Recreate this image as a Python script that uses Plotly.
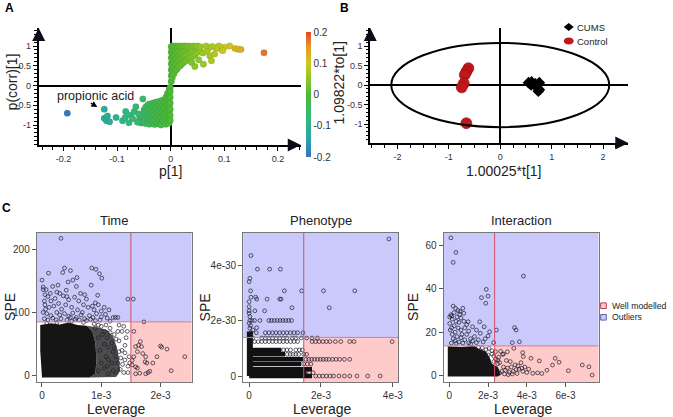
import plotly.graph_objects as go

FONT = "Liberation Sans, Arial, sans-serif"
W, H = 673, 417

# ---------------- A : S-plot, p[1] vs p(corr)[1] ----------------
# scattered variables (p[1], p(corr)[1])
a_scatter = [
    (-0.193, -0.70), (-0.124, -0.60), (-0.124, -0.83), (-0.118, -0.77), (-0.120, -0.89),
    (-0.114, -0.92), (-0.102, -0.81), (-0.090, -0.89), (-0.085, -0.81), (-0.084, -0.66),
    (-0.078, -0.94), (-0.075, -0.75), (-0.071, -0.84), (-0.068, -0.66), (-0.065, -0.54),
    (-0.052, -0.34), (-0.062, -0.93), (-0.060, -0.72),
    (0.174, 0.83), (0.120, 0.94), (0.126, 0.92), (0.131, 0.91), (0.110, 1.00),
    (0.100, 0.97), (0.094, 0.92), (0.090, 1.00), (0.097, 0.88), (0.085, 0.95),
    (0.078, 0.99), (0.072, 0.96), (0.066, 1.00), (0.073, 0.75), (0.076, 0.63),
    (0.061, 0.54), (0.052, 0.65), (0.039, 0.58), (0.060, 0.82), (0.068, 0.86),
    (0.082, 0.80), (0.045, 0.48),
]
# dense block of variables: p[1] -> p(corr)[1] values
a_block = [
    (-0.058, [-0.85, -0.92]),
    (-0.055, [-0.75, -0.88, -0.95]),
    (-0.050, [-0.62, -0.78, -0.90]),
    (-0.047, [-0.55, -0.70, -0.84, -0.96]),
    (-0.043, [-0.50, -0.65, -0.80, -0.92]),
    (-0.040, [-0.47, -0.58, -0.72, -0.86, -0.98]),
    (-0.036, [-0.52, -0.64, -0.78, -0.90]),
    (-0.033, [-0.44, -0.56, -0.70, -0.83, -0.96]),
    (-0.030, [-0.48, -0.62, -0.75, -0.88, -0.99]),
    (-0.027, [-0.42, -0.54, -0.68, -0.80, -0.93]),
    (-0.024, [-0.46, -0.60, -0.72, -0.86, -0.97]),
    (-0.021, [-0.40, -0.52, -0.65, -0.78, -0.91]),
    (-0.018, [-0.44, -0.57, -0.70, -0.83, -0.95, -1.0]),
    (-0.015, [-0.37, -0.50, -0.62, -0.75, -0.88]),
    (-0.012, [-0.42, -0.55, -0.68, -0.80, -0.93]),
    (-0.009, [-0.30, -0.45, -0.60, -0.72, -0.85, -0.98]),
    (-0.006, [-0.20, -0.35, -0.50, -0.65, -0.78, -0.90]),
    (-0.003, [-0.10, -0.25, -0.40, -0.55, -0.70, -0.83, -0.95]),
    (-0.001, [-0.05, -0.15, -0.30, -0.45, -0.60, -0.75, -0.88]),
    (0.001, [0.10, 0.25, 0.40, 0.55, 0.70, 0.85, 0.98]),
    (0.003, [0.20, 0.35, 0.50, 0.65, 0.80, 0.92, 1.0]),
    (0.006, [0.30, 0.45, 0.60, 0.75, 0.88, 0.98]),
    (0.009, [0.38, 0.52, 0.66, 0.80, 0.92, 1.0]),
    (0.012, [0.42, 0.56, 0.70, 0.83, 0.95]),
    (0.015, [0.48, 0.62, 0.75, 0.88, 1.0]),
    (0.018, [0.50, 0.65, 0.78, 0.90, 0.98]),
    (0.021, [0.55, 0.70, 0.82, 0.93, 1.0]),
    (0.024, [0.58, 0.72, 0.85, 0.96]),
    (0.027, [0.62, 0.76, 0.88, 1.0]),
    (0.030, [0.64, 0.78, 0.90, 0.98]),
    (0.034, [0.68, 0.82, 0.93, 1.0]),
    (0.038, [0.70, 0.85, 0.96]),
    (0.042, [0.75, 0.88, 1.0]),
    (0.046, [0.80, 0.92, 0.99]),
    (0.050, [0.84, 0.95, 1.0]),
    (0.055, [0.88, 0.98]),
]
a_xticks = [-0.2, -0.1, 0, 0.1, 0.2]
a_yticks = [-1, -0.5, 0, 0.5, 1]
cbar_ticks = [-0.2, -0.1, 0, 0.1, 0.2]

# ---------------- B : OPLS-DA scores ----------------
cums_t = [0.55, 0.61, 0.60, 0.68, 0.76, 0.71, 0.76, 0.74]
cums_to = [0.06, 0.08, 0.00, 0.03, 0.06, -0.06, -0.12, -0.16]
control_t = [-0.62, -0.66, -0.69, -0.71, -0.75, -0.66]
control_to = [0.43, 0.34, 0.26, 0.04, -0.06, -0.98]
ellipse_t, ellipse_to = 2.12, 1.08
b_xticks = [-2, -1, 0, 1, 2]
b_yticks = [-1, -0.5, 0, 0.5, 1]

# ---------------- C : SPE vs leverage (leverage in 1e-3) ----------------
# Time (SPE raw)
time_limits = (1.5, 85)
time_core = [(0, -3), (-0.03, 40), (-0.03, 80), (0.15, 83), (0.3, 81), (0.45, 84), (0.6, 80),
             (0.75, 79), (0.85, 70), (0.9, 52), (0.92, 25), (0.9, 3), (0.8, -3)]
time_fringe = [(0.75, 79), (0.95, 76), (1.1, 72), (1.2, 62), (1.26, 46), (1.3, 26), (1.32, 8),
               (1.25, -2), (0.8, -3), (0.9, 3), (0.92, 25), (0.9, 52), (0.85, 70)]
time_points = [
    (0.32, 217), (0.38, 170), (0.48, 166), (0.35, 163), (0.11, 162), (0.84, 170), (0.91, 168),
    (0.97, 161), (1.01, 154), (0.59, 155), (0.52, 151), (0.44, 148), (0.0, 151), (0.02, 136),
    (0.07, 136), (0.18, 141), (0.27, 143), (0.58, 141), (0.41, 135), (0.83, 143), (0.75, 121),
    (0.94, 127), (1.45, 121), (1.54, 121), (1.13, 104), (1.07, 97), (1.2, 92), (1.24, 92),
    (1.28, 92), (0.05, 128), (0.1, 125), (0.15, 118), (0.22, 122), (0.3, 130), (0.36, 126),
    (0.45, 120), (0.55, 124), (0.62, 118), (0.7, 112), (0.05, 112), (0.12, 108), (0.2, 110),
    (0.28, 114), (0.33, 105), (0.4, 112), (0.5, 108), (0.6, 104), (0.68, 100), (0.78, 108),
    (0.88, 104), (0.95, 112), (1.05, 108), (0.02, 100), (0.08, 98), (0.15, 95), (0.25, 100),
    (0.3, 96), (0.38, 98), (0.45, 94), (0.52, 99), (0.58, 92), (0.66, 96), (0.72, 90),
    (0.8, 95), (0.86, 92), (0.92, 98), (1.0, 93), (1.1, 91), (0.04, 90), (0.1, 88),
    (0.18, 91), (0.24, 88), (0.32, 90), (0.42, 88), (0.48, 92), (0.56, 89), (0.63, 88),
    (0.75, 87), (0.82, 89), (0.9, 87), (0.98, 88), (1.15, 86), (0.02, 140), (0.04, 118),
    (0.06, 105), (0.14, 130), (0.25, 132), (0.42, 125), (0.65, 130), (0.72, 128),
    (0.85, 110), (0.9, 115), (1.0, 102),
    (1.55, 70), (1.58, 46), (1.63, 48), (1.66, 54), (1.68, 46), (1.61, 38), (1.70, 35),
    (1.75, 30), (1.74, 22), (1.55, 30), (1.58, 14), (1.52, 17), (1.61, 12), (1.65, 4),
    (1.75, 3), (1.79, 5), (1.82, 7), (1.87, 20), (1.94, 30), (2.0, 47), (2.02, 45),
    (2.11, 42), (2.18, 8), (2.41, 30), (1.72, 85), (1.77, 20), (1.58, 3), (1.52, 24),
    (1.05, 70), (1.1, 60), (1.12, 45), (1.18, 52), (1.2, 38), (1.22, 65), (1.25, 30),
    (1.28, 20), (1.3, 55), (1.32, 10), (1.35, 40), (1.38, 5), (1.4, 25), (1.42, 60),
    (1.45, 15), (1.47, 30), (1.35, 70), (1.15, 75), (1.08, 30), (1.1, 15), (1.2, 8),
    (1.28, 70), (1.4, 48), (1.33, 28), (1.45, 5), (1.48, 20), (1.25, 5), (1.18, 20),
    (1.05, 50), (1.12, 25), (1.38, 78), (1.44, 70), (1.3, 80), (1.0, 78), (1.08, 80),
    (1.15, 68), (1.25, 58), (1.3, 38), (1.36, 18), (1.22, 44), (0.95, 80), (1.4, 36),
    (0.88, 82), (0.7, 84), (0.5, 86), (0.25, 84), (0.08, 83), (1.12, 3), (1.05, 12),
    (0.95, 60), (0.98, 40), (1.0, 20), (0.95, 8), (1.02, 65), (0.9, 75),
]
time_xticks, time_xlabels = [0, 1, 2], ["0", "1e-3", "2e-3"]
time_yticks = [0, 100, 200]

# Phenotype (SPE in 1e-30)
pheno_limits = (1.52, 1.39)
# dense runs of points on one SPE level: (SPE, leverage from, leverage to)
pheno_runs = [
    (0.0, 0.0, 1.75), (0.12, 0.0, 1.6), (0.24, 0.0, 1.75), (0.43, 0.0, 1.45),
    (0.6, 0.0, 1.5), (0.78, 0.0, 1.0), (0.94, 0.0, 0.9),
]
pheno_column = (0.02, 0.0, 1.6)
# single points by SPE level: (SPE, [leverages])
pheno_rows = [
    (0.0, [1.85, 1.95, 2.05, 2.15, 2.25, 2.35, 2.5, 2.65, 2.8, 3.0, 3.3, 3.65]),
    (0.12, [1.68, 1.78]),
    (0.43, [1.52, 1.62, 1.72]),
    (0.6, [1.58, 1.66, 1.74, 1.82, 1.9, 1.98, 2.06, 2.14, 2.22, 2.32, 2.42, 2.52, 2.65, 2.8]),
    (0.78, [1.06, 1.14, 1.22, 1.3, 1.38, 1.52, 1.6]),
    (0.94, [0.96, 1.05, 1.15, 1.3, 1.4, 1.48]),
    (1.24, [0.05, 0.15, 0.25, 0.35, 0.45, 0.55, 0.65, 0.75, 0.85, 0.95, 1.05, 1.15, 1.25,
            1.35, 1.75, 1.85, 1.95, 2.05, 2.15, 2.25, 2.4, 2.55, 2.8, 2.92, 3.98]),
    (1.37, [0.1, 0.35, 0.45, 0.55, 0.65, 0.75, 0.85, 0.95, 1.05, 1.2, 1.3, 1.45, 1.6, 1.75, 1.9]),
    (1.56, [0.05, 0.2, 0.45, 0.55, 0.65, 0.75, 0.85, 0.95, 1.05, 1.15, 1.25, 1.35, 1.5]),
    (2.0, [0.02, 0.08, 0.15, 0.3, 0.55, 0.62, 0.7, 0.78, 0.86, 0.94, 1.02, 1.1, 1.18]),
    (2.35, [0.0, 0.16, 0.43]),
    (2.77, [0.21, 0.5, 0.85, 0.89]),
    (3.07, [0.04, 0.98, 1.46, 2.07, 2.94]),
    (3.85, [0.23, 0.57, 0.87]),
]
pheno_points = [
    (0.02, 3.52), (0.0, 3.4), (0.05, 4.34), (3.89, 4.94), (2.23, 2.46), (1.19, 2.46),
    (0.0, 2.68), (0.05, 2.84), (0.18, 2.84), (0.0, 2.5), (0.0, 2.26), (0.02, 2.14),
    (0.02, 1.72), (0.21, 1.74), (0.0, 1.9), (0.04, 1.82), (0.1, 1.66),
]
pheno_xticks, pheno_xlabels = [0, 2, 4], ["0", "2e-3", "4e-3"]
pheno_yticks, pheno_ylabels = [0, 2, 4], ["0", "2e-30", "4e-30"]

# Interaction (SPE raw)
inter_limits = (2.34, 13.7)
inter_core = [(-0.08, -0.4), (-0.08, 13.5), (0.6, 13.2), (1.3, 13.6), (1.55, 12.2), (1.9, 11),
              (2.1, 8), (2.2, 5.5), (2.5, 4), (2.65, 0.6), (2.5, -0.4)]
inter_points = [
    (0.08, 63.4), (0.34, 56.7), (0.2, 52.1), (3.83, 45.8), (1.91, 39.7), (2.0, 36.6),
    (1.66, 35.9), (1.88, 33.3), (0.32, 31), (0.12, 27.4), (0.54, 28.2), (0.75, 28.7),
    (0.4, 27), (0.6, 26.5), (0.02, 27), (1.57, 24.8), (0.97, 24.8), (2.43, 21),
    (2.08, 20.2), (2.0, 18.3), (2.29, 15.2), (3.37, 22.1), (3.45, 21), (3.25, 15.2),
    (3.62, 15.6), (0.1, 15), (0.2, 17), (0.3, 16), (0.15, 19), (0.05, 21), (0.4, 18),
    (0.5, 15.5), (0.6, 17.5), (0.7, 15), (0.8, 16.5), (0.9, 19), (1.0, 15), (1.1, 17),
    (1.2, 16), (1.3, 18), (1.4, 15.2), (1.5, 16.5), (1.6, 19.5), (1.75, 15.5), (1.85, 17),
    (0.25, 23), (0.45, 22), (0.6, 21), (0.35, 25), (0.15, 26), (0.5, 24.5), (0.8, 22),
    (1.0, 20.5), (1.2, 22.5), (1.4, 21), (0.25, 29), (0.08, 28), (0.2, 32), (0.45, 30),
    (0.55, 29.5), (0.7, 31), (0.9, 23.5), (0.02, 24), (0.65, 19), (1.8, 22.5), (0.3, 20),
    (0.12, 22), (0.75, 25), (1.1, 14.5), (0.35, 14.8),
    (3.33, 12.6), (3.79, 10.6), (3.82, 8.8), (4.22, 8), (4.65, 6.8), (5.33, 4.9),
    (5.47, 8), (5.67, 6.2), (6.15, 2.3), (6.87, 4.9), (7.21, 4.1), (7.38, 0.3),
    (4.31, 1.1), (4.56, 1.3), (4.78, 1.0), (5.04, 2.5), (2.51, 7.2), (2.8, 10),
    (3.0, 11), (2.39, 11), (1.5, 13), (1.7, 12.8), (1.9, 12), (2.05, 12.5), (2.2, 11.5),
    (2.3, 9), (2.4, 7.5), (2.5, 5.5), (2.6, 6), (2.8, 4), (2.9, 2.5), (3.0, 3.5),
    (3.1, 1.5), (3.2, 4), (3.3, 2), (3.4, 5), (3.5, 1), (3.6, 3), (3.7, 6), (3.8, 2),
    (3.9, 4), (4.0, 1.5), (2.7, 2), (2.85, 0.8), (3.05, 0.5), (3.25, 0.8), (3.45, 2.8),
    (2.55, 8.5), (2.75, 9.8), (2.95, 7), (3.15, 6.5), (2.65, 11.2), (3.55, 4.5),
    (3.75, 3.5), (4.1, 3), (2.45, 2.5), (2.6, 1.2), (1.75, 10.5), (2.0, 9.5), (2.2, 10),
    (1.6, 11.5), (1.85, 8.5), (2.3, 6.5), (2.15, 3),
]
inter_xticks, inter_xlabels = [0, 2, 4, 6], ["0", "2e-3", "4e-3", "6e-3"]
inter_yticks = [0, 20, 40, 60]


def px_x(p):
    return p / W


def px_y(p):
    return 1 - p / H


# ---------- build A series ----------
a_p, a_pc = [], []
for p, vals in a_block:
    for v in vals:
        a_p.append(p)
        a_pc.append(v)
for p, v in a_scatter:
    a_p.append(p)
    a_pc.append(v)

splot_scale = [
    [0.0, "#3573bd"], [0.15, "#2aa5a8"], [0.3, "#31b77f"], [0.5, "#4dbb36"],
    [0.65, "#99c825"], [0.76, "#cfc722"], [0.88, "#e39b2a"], [1.0, "#e2472c"],
]

fig = go.Figure()

fig.add_trace(go.Scatter(
    x=a_p, y=a_pc, mode="markers", xaxis="x", yaxis="y", showlegend=False,
    marker=dict(size=6.5, color=a_p, colorscale=splot_scale, cmin=-0.2, cmax=0.2,
                line=dict(width=0.3, color="rgba(30,70,20,0.35)"),
                colorbar=dict(x=px_x(308), xanchor="left", y=px_y(32), yanchor="top",
                              len=125 / H, lenmode="fraction", thickness=5, outlinewidth=0,
                              tickvals=cbar_ticks, ticktext=[f"{v:g}" for v in cbar_ticks],
                              ticks="", xpad=0, ypad=0,
                              tickfont=dict(size=10, color="#333", family=FONT))),
))

# ---------- B ----------
fig.add_trace(go.Scatter(
    x=cums_t, y=cums_to, mode="markers", xaxis="x2", yaxis="y2", showlegend=False,
    marker=dict(symbol="diamond", size=9, color="black"),
))
fig.add_trace(go.Scatter(
    x=control_t, y=control_to, mode="markers", xaxis="x2", yaxis="y2", showlegend=False,
    marker=dict(size=11, color="#c0161c", line=dict(width=0.6, color="#8a0d10")),
))

# ---------- C ----------
circ = dict(symbol="circle-open", size=3.8, color="#1c1c2a", line=dict(width=0.7))


def poly(pts, ax, ay, fill):
    fig.add_trace(go.Scatter(
        x=[p[0] for p in pts], y=[p[1] for p in pts], xaxis=ax, yaxis=ay, mode="lines",
        fill="toself", fillcolor=fill, line=dict(width=0), showlegend=False, hoverinfo="skip",
    ))


def points(pts, ax, ay):
    fig.add_trace(go.Scatter(
        x=[p[0] for p in pts], y=[p[1] for p in pts], xaxis=ax, yaxis=ay, mode="markers",
        marker=circ, showlegend=False,
    ))


poly(time_fringe, "x3", "y3", "rgba(25,25,25,0.78)")
poly(time_core, "x3", "y3", "rgba(8,8,8,0.95)")
points(time_points, "x3", "y3")

run_x, run_y = [], []
for spe, a, b in pheno_runs:
    run_x += [a, b, None]
    run_y += [spe, spe, None]
fig.add_trace(go.Scatter(
    x=run_x, y=run_y, xaxis="x4", yaxis="y4", mode="lines", showlegend=False,
    line=dict(width=4.5, color="#111"),
))
fig.add_trace(go.Scatter(
    x=[pheno_column[0]] * 2, y=[pheno_column[1], pheno_column[2]], xaxis="x4", yaxis="y4",
    mode="lines", showlegend=False, line=dict(width=6, color="#111"),
))
row_pts = [(lv, spe) for spe, levs in pheno_rows for lv in levs]
points(row_pts + pheno_points, "x4", "y4")

poly(inter_core, "x5", "y5", "rgba(8,8,8,0.95)")
points(inter_points, "x5", "y5")

# ---------- axes ----------
tickfont9 = dict(size=9, color="#333", family=FONT)


def arrow_axis(domain, rng, vals, minor_vals, anchor, layer):
    return dict(
        domain=domain, range=rng, anchor=anchor, tickmode="array", tickvals=vals,
        ticktext=[f"{v:g}" for v in vals], ticks="outside", ticklen=4, tickwidth=1,
        tickcolor="black", showline=True, linewidth=2, linecolor="black",
        zeroline=True, zerolinewidth=2, zerolinecolor="black", showgrid=False,
        tickfont=tickfont9, fixedrange=True, layer=layer,
        minor=dict(tickmode="array", tickvals=minor_vals, ticks="outside", ticklen=2.5,
                   tickcolor="black", showgrid=False),
    )


def box_axis(domain, rng, vals, labels, anchor):
    return dict(
        domain=domain, range=rng, anchor=anchor, tickmode="array", tickvals=vals,
        ticktext=labels, ticks="outside", ticklen=4, tickcolor="#555", showline=True,
        mirror=True, linecolor="#777", linewidth=1, showgrid=False, zeroline=False,
        tickfont=dict(size=10, color="#333", family=FONT), fixedrange=True,
    )


a_minor_x = [round(-0.24 + 0.02 * i, 3) for i in range(25)]
a_minor_y = [round(-1.5 + 0.1 * i, 2) for i in range(30)]
b_minor_x = [round(-2.5 + 0.25 * i, 2) for i in range(20)]
b_minor_y = [round(-1.4 + 0.1 * i, 2) for i in range(29)]

fig.update_layout(
    width=W, height=H, margin=dict(l=0, r=0, t=0, b=0),
    paper_bgcolor="white", plot_bgcolor="rgba(0,0,0,0)",
    font=dict(family=FONT, color="#222"),
    showlegend=False,
    xaxis=arrow_axis([px_x(39), px_x(303)], [-0.2463, 0.2426], a_xticks, a_minor_x, "y", "above traces"),
    yaxis=arrow_axis([px_y(145), px_y(28)], [-1.506, 1.456], a_yticks, a_minor_y, "x", "above traces"),
    xaxis2=arrow_axis([px_x(373), px_x(633)], [-2.529, 2.490], b_xticks, b_minor_x, "y2", "below traces"),
    yaxis2=arrow_axis([px_y(143), px_y(28)], [-1.487, 1.462], b_yticks, b_minor_y, "x2", "below traces"),
    xaxis3=box_axis([px_x(37), px_x(193)], [-0.089, 2.524], time_xticks, time_xlabels, "y3"),
    yaxis3=box_axis([px_y(382), px_y(233)], [-9.95, 225.4], time_yticks,
                    [str(v) for v in time_yticks], "x3"),
    xaxis4=box_axis([px_x(245), px_x(401)], [-0.166, 4.144], pheno_xticks, pheno_xlabels, "y4"),
    yaxis4=box_axis([px_y(382), px_y(233)], [-0.216, 5.153], pheno_yticks, pheno_ylabels, "x4"),
    xaxis5=box_axis([px_x(447), px_x(603)], [-0.292, 7.708], inter_xticks, inter_xlabels, "y5"),
    yaxis5=box_axis([px_y(382), px_y(233)], [-2.897, 65.61], inter_yticks,
                    [str(v) for v in inter_yticks], "x5"),
)

shapes = []
# Hotelling ellipse
shapes.append(dict(type="circle", xref="x2", yref="y2", x0=-ellipse_t, x1=ellipse_t,
                   y0=-ellipse_to, y1=ellipse_to, line=dict(color="black", width=2)))

# outlier / well-modelled regions
for n, (lev, spe) in zip([3, 4, 5], [time_limits, pheno_limits, inter_limits]):
    shapes.append(dict(type="rect", xref=f"x{n} domain", yref=f"y{n}", x0=0, x1=1,
                       y0=spe, y1=1e3, fillcolor="#c9c9fb", line_width=0, layer="below"))
    shapes.append(dict(type="rect", xref=f"x{n}", yref=f"y{n}", x0=lev, x1=1e3,
                       y0=-1e3, y1=spe, fillcolor="#ffcaca", line_width=0, layer="below"))
    shapes.append(dict(type="line", xref=f"x{n}", yref=f"y{n} domain", x0=lev, x1=lev,
                       y0=0, y1=1, line=dict(color="#d2506a", width=1)))
    shapes.append(dict(type="line", xref=f"x{n} domain", yref=f"y{n}", x0=0, x1=1,
                       y0=spe, y1=spe, line=dict(color="#e07a8a", width=1)))

# legend keys
shapes.append(dict(type="path", xref="paper", yref="paper", xsizemode="pixel", ysizemode="pixel",
                   xanchor=px_x(573), yanchor=px_y(27), path="M -5 0 L 0 4 L 5 0 L 0 -4 Z",
                   fillcolor="black", line_width=0))
shapes.append(dict(type="circle", xref="paper", yref="paper", xsizemode="pixel", ysizemode="pixel",
                   xanchor=px_x(573), yanchor=px_y(41), x0=-5, x1=5, y0=-3.5, y1=3.5,
                   fillcolor="#c0161c", line_width=0))
for yy, fc, lc in [(305.7, "#ffcaca", "#b04050"), (317.3, "#c9c9fb", "#6060a0")]:
    shapes.append(dict(type="rect", xref="paper", yref="paper", xsizemode="pixel",
                       ysizemode="pixel", xanchor=px_x(608), yanchor=px_y(yy),
                       x0=-2.8, x1=2.8, y0=-2.8, y1=2.8, fillcolor=fc,
                       line=dict(color=lc, width=1)))
fig.update_layout(shapes=shapes)

ann = []


def text(x, y, s, size, angle=0, bold=False, xanchor="center", color="#222"):
    ann.append(dict(x=px_x(x), y=px_y(y), xref="paper", yref="paper", text=f"<b>{s}</b>" if bold else s,
                    showarrow=False, textangle=angle, xanchor=xanchor, yanchor="middle",
                    font=dict(size=size, family=FONT, color=color)))


def arrowhead(xref, yref, x, y, ax, ay):
    ann.append(dict(x=x, y=y, xref=xref, yref=yref, ax=ax, ay=ay, text="", showarrow=True,
                    arrowhead=2, arrowsize=1.3, arrowwidth=2, arrowcolor="#0d0d1a"))


arrowhead("x domain", "y domain", 1, 0, -12, 0)
arrowhead("x domain", "y domain", 0, 1, 0, 12)
arrowhead("x2 domain", "y2 domain", 1, 0, -12, 0)
arrowhead("x2 domain", "y2 domain", 0, 1, 0, 12)

text(9.5, 8.5, "A", 12, bold=True, color="black")
text(347, 8.5, "B", 12, bold=True, color="black")
text(7, 207.5, "C", 12, bold=True, color="black")

text(12.5, 82, "p(corr)[1]", 14, angle=-90)
text(172, 171, "p[1]", 14)
text(342, 83, "1.09822*to[1]", 14, angle=-90)
text(508, 171, "1.00025*t[1]", 14)
text(96.5, 95.5, "propionic acid", 12.5)
ann.append(dict(x=-0.137, y=-0.545, xref="x", yref="y", ax=-8, ay=-5, text="", showarrow=True,
                arrowhead=2, arrowsize=1, arrowwidth=1.2, arrowcolor="black"))

text(579, 27, "CUMS", 9.5, xanchor="left")
text(579, 41, "Control", 9.5, xanchor="left")
text(615, 305.7, "Well modelled", 8.7, xanchor="left")
text(615, 317.3, "Outliers", 8.7, xanchor="left")

for cx, title in [(115, "Time"), (323, "Phenotype"), (525, "Interaction")]:
    text(cx, 220, title, 13)
    text(cx + 2, 409, "Leverage", 14)
for sx in [10, 207, 416]:
    text(sx, 307, "SPE", 14, angle=-90)

fig.update_layout(annotations=ann)

# the page body has a default 8px margin; remove it so the figure fills the window
fig.write_html("out.html", config={"displayModeBar": False},
               post_script="document.body.style.margin='0';")
